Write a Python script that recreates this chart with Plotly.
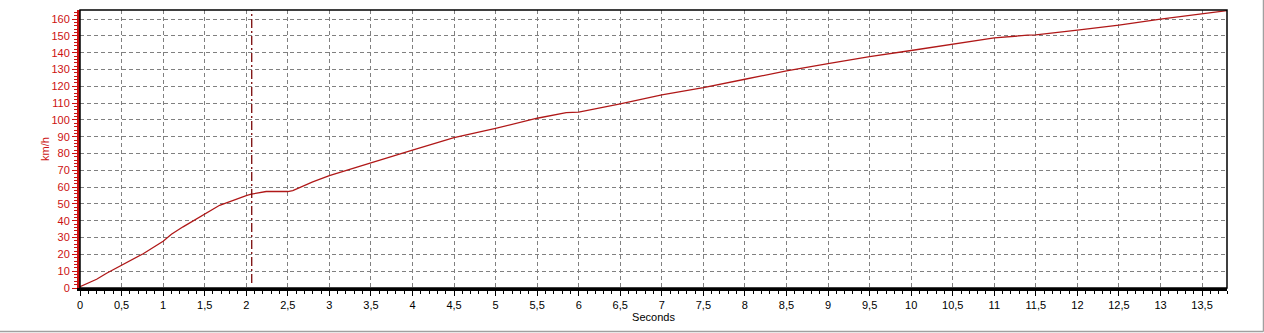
import plotly.graph_objects as go

# Data
seconds = [0, 0.1, 0.2, 0.32, 0.5, 0.76, 1.0, 1.1, 1.24, 1.5, 1.68, 2.0, 2.06, 2.24,
           2.5, 2.56, 2.8, 3.0, 3.5, 4.0, 4.5, 5.0, 5.5, 5.85, 6.0, 6.5, 7.0, 7.5,
           8.0, 8.5, 9.0, 9.5, 10.0, 10.5, 11.0, 11.4, 11.5, 12.0, 12.5, 13.0, 13.5, 13.8]
speed_kmh = [0.8, 2.8, 5.2, 8.8, 13.4, 20.4, 27.8, 32.0, 36.4, 43.8, 49.2, 55.0, 55.8, 57.4,
             57.4, 58.0, 63.2, 66.8, 74.2, 82.0, 89.5, 95.0, 101.0, 104.4, 104.6, 109.5, 114.9, 119.2,
             124.2, 129.2, 133.5, 137.7, 141.3, 145.2, 148.8, 150.4, 150.6, 153.4, 156.4, 160.0, 163.1, 165.0]
cursor_time = 2.066
x_range = [0, 13.8]
y_range = [0, 165.4]
x_tickvals = [i * 0.5 for i in range(28)]
x_ticktext = [("%g" % v).replace(".", ",") for v in x_tickvals]
y_tickvals = list(range(0, 170, 10))

W, H = 1264, 333
ML, MR, MT, MB = 80, 37, 10, 45
pw, ph = W - ML - MR, H - MT - MB

fig = go.Figure()
fig.add_trace(go.Scatter(x=seconds, y=speed_kmh, mode="lines",
                         line=dict(color="#B01818", width=1.3), showlegend=False,
                         hoverinfo="skip"))

fig.add_shape(type="line", xref="x", yref="y", x0=cursor_time, x1=cursor_time,
              y0=3, y1=y_range[1], line=dict(color="#7A0A0A", width=1.3, dash="9px,3px,2px,3px"))
# frame
fig.add_shape(type="rect", xref="paper", yref="paper", x0=0, x1=1, y0=0, y1=1,
              line=dict(color="black", width=1.5), layer="above")
# window border (grey)
bx = (W - 0.5 - ML) / pw
by = -(H - 1.5 - (H - MB)) / ph
fig.add_shape(type="line", xref="paper", yref="paper", x0=bx, x1=bx, y0=by, y1=1 + MT / ph,
              line=dict(color="#A0A0A0", width=1.5))
fig.add_shape(type="line", xref="paper", yref="paper", x0=-ML / pw, x1=bx, y0=by, y1=by,
              line=dict(color="#A0A0A0", width=1.5))

font = "Liberation Sans, Arial, sans-serif"
fig.update_layout(
    width=W, height=H,
    margin=dict(l=ML, r=MR, t=MT, b=MB),
    paper_bgcolor="white", plot_bgcolor="white",
    font=dict(family=font, size=11, color="black"),
    xaxis=dict(range=x_range, tickvals=x_tickvals, ticktext=x_ticktext,
               showgrid=True, gridcolor="#808080", griddash="4px,3px", gridwidth=1,
               showline=True, linecolor="black", linewidth=3,
               ticks="outside", ticklen=5, tickcolor="black", tickwidth=1,
               minor=dict(dtick=0.1, ticks="outside", ticklen=3, tickcolor="black", showgrid=False),
               zeroline=False,
               title=dict(text="Seconds", font=dict(size=11, color="black"), standoff=3),
               tickfont=dict(size=11, color="black")),
    yaxis=dict(range=y_range, tickvals=y_tickvals,
               showgrid=True, gridcolor="#808080", griddash="4px,3px", gridwidth=1,
               showline=True, linecolor="#CC1111", linewidth=3,
               ticks="outside", ticklen=5, tickcolor="#CC1111", tickwidth=1,
               minor=dict(dtick=2, ticks="outside", ticklen=3, tickcolor="#CC1111", showgrid=False),
               zeroline=False,
               title=dict(text="km/h", font=dict(size=11, color="#CC1111"), standoff=0),
               tickfont=dict(size=11, color="#CC1111")),
)

fig.write_html("out.html")
